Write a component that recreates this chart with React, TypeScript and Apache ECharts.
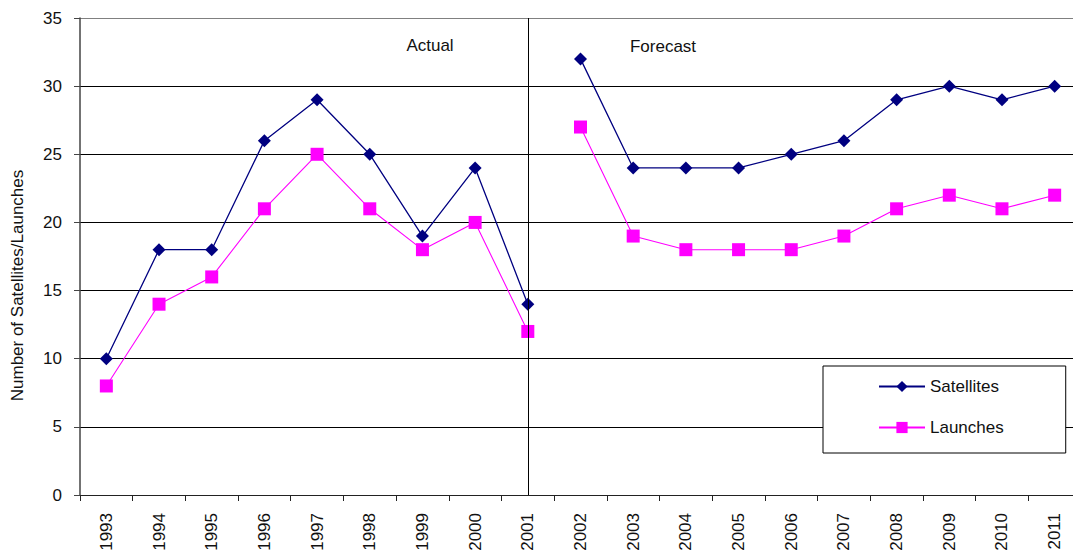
import React, { useEffect, useRef } from "react";
import * as echarts from "echarts";

const years = [
  "1993", "1994", "1995", "1996", "1997", "1998", "1999", "2000", "2001",
  "2002", "2003", "2004", "2005", "2006", "2007", "2008", "2009", "2010", "2011",
];
const satellites = [10, 18, 18, 26, 29, 25, 19, 24, 14, 32, 24, 24, 24, 25, 26, 29, 30, 29, 30];
const launches = [8, 14, 16, 21, 25, 21, 18, 20, 12, 27, 19, 18, 18, 18, 19, 21, 22, 21, 22];
const yTicks = [0, 5, 10, 15, 20, 25, 30, 35];
const lastActualYear = "2001";

const FONT = "Liberation Sans, Arial, sans-serif";
const NAVY = "#000080";
const MAGENTA = "#FF00FF";

// Split a series at the actual/forecast boundary so the two periods are not joined.
const splitAt = (values: number[], cut: number) => ({
  actual: values.map((v, i) => (i <= cut ? v : null)),
  forecast: values.map((v, i) => (i > cut ? v : null)),
});

export default function App() {
  const ref = useRef<HTMLDivElement>(null);

  useEffect(() => {
    if (!ref.current) return;
    const chart = echarts.init(ref.current, undefined, { renderer: "svg" });
    const cut = years.indexOf(lastActualYear);
    const sat = splitAt(satellites, cut);
    const lau = splitAt(launches, cut);

    const satStyle = {
      type: "line" as const,
      name: "Satellites",
      symbol: "diamond",
      symbolSize: 13,
      itemStyle: { color: NAVY },
      lineStyle: { color: NAVY, width: 1.3 },
      connectNulls: false,
      z: 3,
    };
    const lauStyle = {
      type: "line" as const,
      name: "Launches",
      symbol: "rect",
      symbolSize: 13,
      itemStyle: { color: MAGENTA },
      lineStyle: { color: MAGENTA, width: 1.1 },
      connectNulls: false,
      z: 2,
    };

    chart.setOption({
      animation: false,
      textStyle: { fontFamily: FONT },
      grid: { left: 80, top: 18, bottom: 63, right: 9, containLabel: false },
      legend: {
        data: ["Satellites", "Launches"],
        orient: "vertical",
        left: 823,
        top: 366,
        padding: [12, 62, 17, 55],
        itemWidth: 46,
        itemHeight: 14,
        itemGap: 24,
        borderColor: "#000",
        borderWidth: 1,
        backgroundColor: "#fff",
        textStyle: { fontFamily: FONT, fontSize: 17, color: "#111" },
      },
      xAxis: {
        type: "category",
        data: years,
        boundaryGap: true,
        axisLine: { lineStyle: { color: "#222", width: 1 } },
        axisTick: { show: true, length: 6, lineStyle: { color: "#222" } },
        axisLabel: {
          rotate: 90,
          margin: 18,
          fontSize: 17,
          fontFamily: FONT,
          color: "#111",
          interval: 0,
        },
        splitLine: { show: false },
      },
      yAxis: {
        type: "value",
        min: yTicks[0],
        max: yTicks[yTicks.length - 1],
        interval: 5,
        name: "Number of Satellites/Launches",
        nameLocation: "middle",
        nameGap: 54,
        nameTextStyle: {
          fontFamily: FONT,
          fontSize: 17,
          color: "#111",
          padding: [0, 58, 0, 0],
        },
        axisLine: { show: true, lineStyle: { color: "#444", width: 1.5 } },
        axisTick: { show: true, length: 6, lineStyle: { color: "#444" } },
        axisLabel: { margin: 18, fontSize: 17, fontFamily: FONT, color: "#111" },
        splitLine: {
          show: true,
          lineStyle: {
            color: ["#000", "#000", "#000", "#000", "#000", "#000", "#000", "#808080"],
            width: 1,
          },
        },
      },
      graphic: [
        {
          type: "text",
          x: 430,
          y: 45,
          style: {
            text: "Actual",
            font: `17px ${FONT}`,
            fill: "#111",
            align: "center",
            verticalAlign: "middle",
          },
        },
        {
          type: "text",
          x: 663,
          y: 46,
          style: {
            text: "Forecast",
            font: `17px ${FONT}`,
            fill: "#111",
            align: "center",
            verticalAlign: "middle",
          },
        },
      ],
      series: [
        {
          ...satStyle,
          data: sat.actual,
          markLine: {
            silent: true,
            symbol: "none",
            label: { show: false },
            lineStyle: { color: "#000", width: 1, type: "solid" },
            data: [{ xAxis: lastActualYear }],
          },
        },
        { ...satStyle, data: sat.forecast },
        { ...lauStyle, data: lau.actual },
        { ...lauStyle, data: lau.forecast },
      ],
    });

    return () => chart.dispose();
  }, []);

  return (
    <div
      style={{
        position: "fixed",
        left: 0,
        top: 0,
        width: 1073,
        height: 558,
        overflow: "hidden",
        background: "#fff",
      }}
    >
      <div ref={ref} style={{ width: 1090, height: 558 }} />
    </div>
  );
}
